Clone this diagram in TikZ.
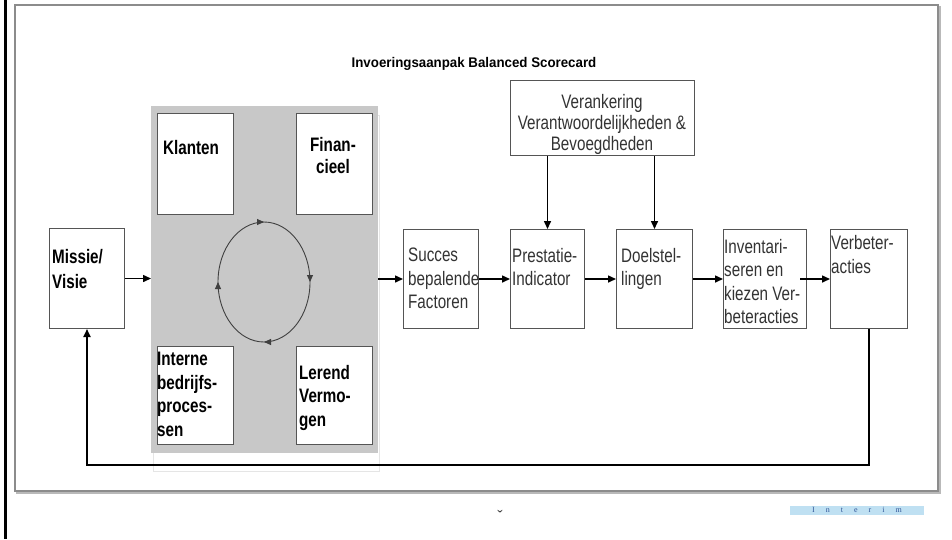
\documentclass[tikz,border=0pt]{standalone}
\usepackage{fontspec}
\setmainfont[FakeStretch=0.78]{Liberation Sans}
\newfontfamily\titlefont[FakeStretch=0.95]{Liberation Sans}
\newfontfamily\serifmark{Liberation Serif}
\usetikzlibrary{arrows.meta,decorations.markings}
\definecolor{framegray}{HTML}{8C8C8C}
\definecolor{panelgray}{HTML}{C8C8C8}
\definecolor{boxline}{HTML}{555555}
\definecolor{txtgray}{HTML}{333333}
\definecolor{interimblue}{HTML}{BFE0F2}
\definecolor{interimtext}{HTML}{2F5597}
\begin{document}
\begin{tikzpicture}[x=1pt,y=-1pt,
  box/.style={draw=boxline, line width=1pt, fill=white, inner sep=0pt, anchor=north west},
  lbl/.style={inner sep=0pt, anchor=north west, align=left, font=\fontsize{19.5}{23.5}\selectfont, text=txtgray},
  blbl/.style={inner sep=0pt, anchor=north west, align=left, font=\bfseries\fontsize{19.5}{23.5}\selectfont, text=black},
  arr/.style={draw=black, line width=1.5pt, -{Triangle[length=8pt,width=7pt]}}
]
\useasboundingbox (0,0) rectangle (952,539);
\fill[white] (0,0) rectangle (952,539);
% page frame
\draw[line width=3pt] (5,0) -- (5,539);
\draw[framegray, line width=2pt] (15,5) rectangle (938,491);
\draw[gray!55, line width=1.5pt] (16,493) -- (940,493) -- (940,6);
% title
\node[font=\titlefont\bfseries\fontsize{14}{16}\selectfont] (title) at (474,64) {Invoeringsaanpak Balanced Scorecard};
% faint outline behind panel
\draw[gray!20, line width=1pt] (153,115) rectangle (379,471);
% panel
\node[fill=panelgray, inner sep=0pt, anchor=north west, minimum width=227pt, minimum height=347pt] (bsc) at (151,106) {};
% boxes
\node[box, minimum width=75pt, minimum height=100pt] (missie) at (49,228) {};
\node[box, minimum width=76pt, minimum height=101pt] (klant) at (157,113) {};
\node[box, minimum width=76pt, minimum height=101pt] (fin) at (296,113) {};
\node[box, minimum width=76pt, minimum height=98pt] (intern) at (157,346) {};
\node[box, minimum width=76pt, minimum height=98pt] (lerend) at (296,346) {};
\node[box, minimum width=75pt, minimum height=99pt] (succ) at (403,229) {};
\node[box, minimum width=74pt, minimum height=99pt] (prest) at (510,229) {};
\node[box, minimum width=76pt, minimum height=99pt] (doel) at (616,229) {};
\node[box, minimum width=83pt, minimum height=99pt] (invent) at (723,229) {};
\node[box, minimum width=77pt, minimum height=99pt] (verb) at (830,229) {};
\node[box, minimum width=184pt, minimum height=75pt] (verank) at (510,80) {};
% texts
\node[blbl, font=\bfseries\fontsize{19.5}{25}\selectfont] (tmissie) at (52,249) {Missie/\\Visie};
\node[blbl] (tklant) at (163,140) {Klanten};
\node[blbl, anchor=north, align=center, font=\bfseries\fontsize{19.5}{22}\selectfont] (tfin) at (333,137) {Finan-\\cieel};
\node[blbl] (tint) at (157,352) {Interne\\bedrijfs-\\proces-\\sen};
\node[blbl] (tler) at (299,365) {Lerend\\Vermo-\\gen};
\node[lbl] (tsucc) at (408,248) {Succes\\bepalende\\Factoren};
\node[lbl] (tprest) at (512,248) {Prestatie-\\Indicator};
\node[lbl] (tdoel) at (621,248) {Doelstel-\\lingen};
\node[lbl] (tinv) at (724,239) {Inventari-\\seren en\\kiezen Ver-\\beteracties};
\node[lbl, font=\fontsize{19.5}{24}\selectfont] (tverb) at (831,235) {Verbeter-\\acties};
\node[lbl, anchor=north, align=center, font=\fontsize{19.5}{21}\selectfont] (tver) at (602,94) {Verankering\\Verantwoordelijkheden \&\\Bevoegdheden};
% cycle
\draw[draw=black!75, line width=0.9pt, postaction={decorate},
  decoration={markings,
    mark=at position 0 with {\arrow{Triangle[length=7pt,width=6pt]}},
    mark=at position 0.25 with {\arrow{Triangle[length=7pt,width=6pt]}},
    mark=at position 0.5 with {\arrow{Triangle[length=7pt,width=6pt]}},
    mark=at position 0.75 with {\arrow{Triangle[length=7pt,width=6pt]}}}]
  (264,282) ellipse [x radius=46, y radius=60];
% connectors
\draw[arr] (missie.east) -- (bsc.west |- missie.east);
\draw[arr] (bsc.east |- succ.west) -- (succ.west);
\draw[arr] (succ.east) -- (prest.west);
\draw[arr] (prest.east) -- (doel.west);
\draw[arr] (doel.east) -- (invent.west);
\draw[arr] ([xshift=-7pt]invent.east) -- (verb.west);
\draw[arr] (verank.south -| prest.north) -- (prest.north);
\draw[arr] (verank.south -| doel.north) -- (doel.north);
\coordinate (fbl) at (0,465);
\draw[arr, line width=1.8pt] (verb.south) -- (verb.south |- fbl) -| (missie.south);
% footer
\node[inner sep=0pt, text=black!80, font=\serifmark\fontsize{16}{16}\selectfont] (pg) at (500,516) {ˇ};
\node[fill=interimblue, inner sep=0pt, minimum width=134pt, minimum height=9pt, text=interimtext, font=\serifmark\fontsize{8}{8}\selectfont] (interim) at (857,510) {I\hspace{11pt}n\hspace{11pt}t\hspace{11pt}e\hspace{11pt}r\hspace{11pt}i\hspace{11pt}m};
\end{tikzpicture}
\end{document}
